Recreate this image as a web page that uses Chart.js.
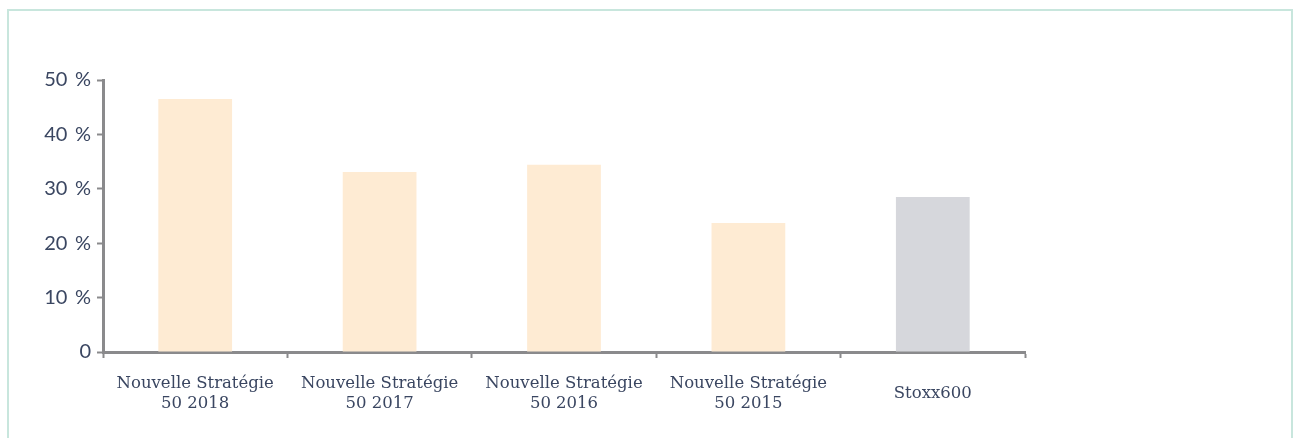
<!DOCTYPE html>
<html>
<head>
<meta charset="utf-8">
<script src="https://cdn.jsdelivr.net/npm/chart.js@4.4.0/dist/chart.umd.min.js"></script>
<style>
  html, body { margin: 0; padding: 0; background: #fff; }
  #wrap { position: relative; width: 1300px; height: 438px; overflow: hidden; }
  #frame { position: absolute; left: 7px; top: 9px; width: 1286px; height: 460px; border: 2px solid #c8e6dd; box-sizing: border-box; }
  canvas { position: absolute; left: 0; top: 0; }
</style>
</head>
<body>
<div id="wrap">
  <div id="frame"></div>
  <canvas id="myChart" width="1300" height="438"></canvas>
</div>
<script>
// categories and values (percent)
const categories = [
  ['Nouvelle Stratégie', '50 2018'],
  ['Nouvelle Stratégie', '50 2017'],
  ['Nouvelle Stratégie', '50 2016'],
  ['Nouvelle Stratégie', '50 2015'],
  'Stoxx600'
]
const values = [46.5, 33.1, 34.4, 23.7, 28.5]
const barColors = ['#feebd3', '#feebd3', '#feebd3', '#feebd3', '#d6d7dc']
const yTicks = [0, 10, 20, 30, 40, 50]

const axisColor = '#8a8a8c'
const textColor = '#3a4661'

const ctx = document.getElementById('myChart')
const myChart = new Chart(ctx, {
  type: 'bar',
  data: {
    labels: categories,
    datasets: [{
      data: values,
      backgroundColor: barColors,
      borderWidth: 0,
      barPercentage: 0.4,
      categoryPercentage: 1
    }]
  },
  options: {
    responsive: false,
    animation: false,
    layout: { padding: { left: 0, right: 275, top: 80, bottom: 0 } },
    plugins: { legend: { display: false }, tooltip: { enabled: false } },
    scales: {
      x: {
        offset: true,
        grid: {
          display: true,
          offset: true,
          drawOnChartArea: false,
          drawTicks: true,
          tickLength: 6,
          tickWidth: 2,
          tickColor: axisColor
        },
        border: { display: true, color: axisColor, width: 3 },
        ticks: {
          color: textColor,
          font: { family: 'DejaVu Serif', size: 16.5, lineHeight: 1.2 },
          padding: 26,
          crossAlign: 'center',
          maxRotation: 0,
          autoSkip: false
        },
        afterFit: s => { s.height = 86 }
      },
      y: {
        min: 0,
        max: 50,
        afterBuildTicks: s => { s.ticks = yTicks.map(v => ({ value: v })) },
        grid: {
          display: true,
          drawOnChartArea: false,
          drawTicks: true,
          tickLength: 6,
          tickWidth: 2,
          tickColor: axisColor
        },
        border: { display: true, color: axisColor, width: 3 },
        ticks: {
          color: textColor,
          font: { family: 'Lato', size: 20 },
          padding: 6,
          callback: v => v === 0 ? '0' : v + '\u2009 %'
        },
        afterFit: s => { s.width = 103 }
      }
    }
  }
})
</script>
</body>
</html>
